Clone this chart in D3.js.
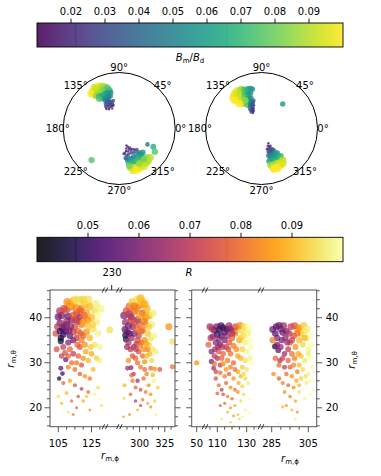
<!DOCTYPE html>
<html><head><meta charset="utf-8">
<script src="https://cdn.jsdelivr.net/npm/d3@7"></script>
<style>body{margin:0;background:#fff}svg{display:block;font-family:"DejaVu Sans",sans-serif}</style>
</head><body><svg id="c" width="381" height="476"></svg>
<script>
// ---------------- DATA ----------------
const bTicks = [0.02,0.03,0.04,0.05,0.06,0.07,0.08,0.09];
const rTicks = [0.05,0.06,0.07,0.08,0.09];
const bDomain = [0.01,0.1];
const rDomain = [0.04,0.1];
const polarLabels = [0,45,90,135,180,225,270,315];
const yTicksMajor = [20,30,40];

// polar points: [theta deg, r (fraction of max), Bm/Bd]
const polarLeftUpper = [
[126,0.82,0.1],[123,0.8,0.098],[120,0.83,0.095],[116,0.84,0.097],[112,0.82,0.09],[109,0.79,0.088],[127,0.77,0.095],[124,0.75,0.092],[119,0.77,0.09],[114,0.78,0.088],[129,0.8,0.1],[121,0.86,0.093],[117,0.72,0.085],[111,0.74,0.08],[106,0.76,0.075],[104,0.71,0.07],[125,0.71,0.085],
[122,0.68,0.07],[118,0.67,0.068],[114,0.66,0.065],[110,0.68,0.06],[107,0.66,0.058],[120,0.62,0.06],[116,0.6,0.058],[112,0.6,0.055],[108,0.61,0.052],[124,0.64,0.075],[113,0.55,0.05],[117,0.56,0.048],[109,0.56,0.045],[105,0.6,0.05],[103,0.66,0.055],
[115,0.52,0.04],[111,0.51,0.035],[107,0.5,0.032],[119,0.5,0.035],[113,0.47,0.03],[109,0.46,0.025],[105,0.47,0.028],[117,0.45,0.022],[121,0.46,0.03],[111,0.42,0.02],[107,0.42,0.018],[115,0.41,0.015],[104,0.43,0.02],[118,0.39,0.016],[109,0.38,0.015],[123,0.42,0.02],[102,0.51,0.03]
];
const polarLeftLower = [
[283,0.45,0.02],[287,0.42,0.015],[291,0.44,0.018],[295,0.41,0.02],[299,0.43,0.025],[303,0.44,0.02],[289,0.38,0.015],[295,0.36,0.018],[285,0.5,0.03],[290,0.49,0.025],[296,0.48,0.03],[301,0.5,0.028],[306,0.47,0.022],[280,0.46,0.02],[293,0.33,0.015],[310,0.49,0.03],[307,0.53,0.04],[299,0.39,0.02],
[284,0.58,0.045],[288,0.56,0.05],[292,0.58,0.055],[297,0.56,0.05],[302,0.58,0.055],[307,0.59,0.06],[311,0.57,0.05],[285,0.63,0.06],[290,0.64,0.065],[296,0.63,0.06],[301,0.65,0.068],[306,0.64,0.065],[311,0.62,0.06],[315,0.6,0.058],[293,0.68,0.07],[299,0.69,0.072],[304,0.7,0.075],[282,0.54,0.04],
[286,0.73,0.09],[290,0.75,0.095],[294,0.77,0.1],[298,0.75,0.092],[302,0.77,0.097],[306,0.75,0.09],[310,0.74,0.088],[314,0.72,0.085],[288,0.79,0.095],[293,0.81,0.1],[298,0.8,0.098],[303,0.81,0.095],[308,0.79,0.092],[312,0.78,0.09],[285,0.69,0.082],[309,0.7,0.08],[300,0.72,0.085],[317,0.76,0.09],
[332,0.69,0.065],[327,0.76,0.075],[330.6,0.58,0.045],[228.8,0.75,0.075]
];
const polarRightUpper = [
[133,0.74,0.1],[130,0.77,0.098],[127,0.79,0.097],[123,0.8,0.095],[119,0.78,0.092],[131,0.68,0.1],[128,0.7,0.097],[125,0.72,0.094],[121,0.73,0.09],[129,0.63,0.099],[126,0.62,0.095],[123,0.64,0.092],[127,0.56,0.098],[124,0.55,0.093],[134,0.7,0.1],[117,0.79,0.088],[132,0.6,0.1],
[114,0.76,0.075],[111,0.74,0.07],[108,0.75,0.065],[105,0.74,0.06],[116,0.68,0.072],[113,0.66,0.068],[110,0.67,0.062],[107,0.66,0.058],[119,0.62,0.08],[115,0.6,0.065],[112,0.58,0.06],[109,0.58,0.055],[118,0.53,0.07],[121,0.5,0.075],[114,0.52,0.055],[111,0.5,0.05],[120,0.58,0.085],[103,0.72,0.055],
[116,0.46,0.04],[112,0.45,0.035],[109,0.44,0.03],[119,0.43,0.045],[115,0.4,0.03],[112,0.39,0.025],[118,0.37,0.025],[121,0.39,0.035],[116,0.34,0.02],[119,0.32,0.018],[114,0.35,0.02],[122,0.35,0.028],[108,0.49,0.035],[106,0.52,0.04],
[49.2,0.58,0.055]
];
const polarRightLower = [
[295,0.29,0.015],[290,0.33,0.018],[293,0.36,0.02],[297,0.35,0.02],[289,0.39,0.022],[294,0.4,0.025],[298,0.41,0.028],[286,0.43,0.03],[291,0.44,0.028],[296,0.45,0.03],[300,0.44,0.035],[288,0.47,0.035],[285,0.38,0.02],
[284,0.5,0.045],[288,0.51,0.05],[292,0.5,0.048],[296,0.51,0.052],[300,0.5,0.055],[303,0.52,0.058],[286,0.56,0.055],[290,0.57,0.06],[294,0.56,0.058],[298,0.57,0.062],[302,0.58,0.065],[305,0.6,0.07],[283,0.6,0.06],[287,0.62,0.065],[292,0.62,0.068],[297,0.63,0.07],[301,0.64,0.072],
[284,0.67,0.085],[288,0.69,0.09],[292,0.68,0.088],[296,0.69,0.092],[300,0.7,0.095],[304,0.68,0.09],[286,0.73,0.095],[290,0.74,0.1],[294,0.74,0.098],[298,0.74,0.097],[302,0.73,0.095],[287,0.76,0.1],[292,0.77,0.1]
];

// scatter points: [r_m,phi, r_m,theta, R]
const leftA = [
[103.5,36.5,0.075],[106.5,35.5,0.043],[106.5,34.8,0.045],[107.5,37.6,0.048],[109.5,37.0,0.052],[108,36.2,0.05],[110,38.5,0.055],[106,38.8,0.06],[105,40.2,0.058],[107,40.5,0.06],[111,40.3,0.056],[113,39.5,0.06],[112,36,0.055],[114,35,0.058],[111,34.5,0.06],[105.5,26.5,0.045],[107.5,27.6,0.05],[106.5,28.8,0.055],[109.5,30.7,0.057],
[104,33,0.075],[108,33.5,0.07],[112,33,0.078],[110,41.8,0.075],[113,42.5,0.08],[116,41,0.072],[118,40,0.065],[115,38,0.075],[117,37,0.08],[119,38.5,0.082],[116,35.5,0.07],[120,36,0.078],[118,33.5,0.075],[121,34,0.085],[114,32,0.07],[117,31.5,0.078],[113,30,0.08],[119,29.5,0.075],[111,29,0.082],[115,28.5,0.08],[118,27.5,0.078],[121,27,0.085],[124,26.5,0.082],[108,25.5,0.078],[112,26,0.088],[115,25,0.075],[119,24.2,0.07],[123,23.5,0.08],[110,23.3,0.09],[117,22.5,0.075],[113,21.5,0.08],[120,21.5,0.088],[107,21,0.09],[116,20,0.078],[124,19.5,0.085],[111,19,0.095],[114,18.5,0.08],[105,22.5,0.095],
[114,40.5,0.078],[117,39.2,0.07],[119,42,0.082],[122,36.8,0.085],[110,39.2,0.065],[108,38,0.062],
[118,43.8,0.095],[112,43,0.09],[121,43,0.092],[124,42.5,0.09],[127,41.5,0.095],[130.5,42,0.098],[122,41,0.088],[125,40,0.09],[128,39,0.097],[123,38,0.092],[126,37.5,0.095],[129,36.5,0.098],[124,35.5,0.09],[127,34,0.096],[130,33.5,0.098],[125,32,0.088],[128,31,0.093],[130,30.5,0.097],[136,37.3,0.095],[126,28.5,0.09],[129,24.5,0.095],[127,23,0.098],[130,22,0.1],[122,22.5,0.092],[131,20.5,0.095],[116,42.2,0.085],[120,39,0.088],
[104.5,38,0.07],[106,41.5,0.068],[108.5,42,0.075],[110.5,43.5,0.085],[114.5,43.8,0.09],[116,44,0.095],[120,44,0.093],[122.5,39.5,0.085],[120.5,40.5,0.08],[118,41.5,0.078],[115.5,39.5,0.072],[112.5,38,0.065],[114,36.8,0.07],[116.5,34,0.078],[119,35,0.082],[121.5,32.5,0.088],[123,30.5,0.09],[120,31,0.085],[116,30,0.082],[111,31.5,0.078],[109,32.2,0.075],[107,31.5,0.072],[118.5,36.5,0.078],[125.5,38.5,0.093],[127.5,43,0.097],[123,44,0.095],[129,40.5,0.1],[124.5,33.5,0.092],[111.5,37.2,0.06],[106,37,0.05]
];
const leftB = [
[284.5,40.5,0.06],[291.5,40.2,0.058],[285.5,37.4,0.055],[286,36.1,0.045],[286.5,35.2,0.048],[289,38.2,0.06],[293,38,0.062],[288,36.8,0.058],[292,35.5,0.065],[295,36.5,0.06],[294,33.5,0.065],[297,34.2,0.068],[298,39.5,0.062],[288,28.8,0.065],[291.5,28.9,0.062],[294,27.5,0.07],[298,26,0.065],[296,21.5,0.068],[301,20.5,0.07],
[287,41.5,0.075],[290,42.5,0.08],[295,41.5,0.078],[300,42.8,0.082],[303,41,0.075],[300,38.5,0.078],[303,37.2,0.08],[306,38.5,0.083],[299,36,0.072],[302,34.5,0.078],[305,35,0.085],[299,32.5,0.075],[303,31.5,0.08],[308,33,0.082],[296,31,0.078],[289,30.5,0.085],[301,29,0.082],[305,28.5,0.078],[311,28.8,0.08],[315,28.6,0.085],[320,28.5,0.075],[293,26,0.082],[304,26.5,0.08],[309,25,0.085],[296,24.5,0.078],[301,24,0.075],[306,23.5,0.082],[311,23,0.085],[291,23,0.08],[303,21.8,0.08],[308,21,0.088],[290,18.5,0.082],[284,18,0.085],[298,19.5,0.09],[311,20.2,0.085],
[293,43.5,0.092],[298,44,0.095],[303,43.5,0.093],[307,42,0.09],[310,40.5,0.095],[312,38.5,0.097],[308,36.5,0.092],[311,35.5,0.095],[314,36,0.098],[309,34,0.093],[313,33,0.096],[307,31.5,0.09],[312,30.5,0.094],[316,32.5,0.097],[329,38,0.085],[332.5,34.7,0.095],[332.5,29.1,0.08],[284.5,22.1,0.095],[285,25,0.09],[314,26,0.098],[318,24.5,0.093],[316,18.5,0.097],[315,21.5,0.093],[306,40,0.085],[297,42,0.085],[300,40.5,0.088],
[286,39,0.065],[289.5,40.8,0.07],[292,39.5,0.072],[295,39,0.075],[297,37.5,0.078],[294.5,42.5,0.082],[301,44.3,0.09],[305,43,0.088],[308.5,40.5,0.09],[304.5,39.2,0.082],[301.5,37,0.08],[298,35,0.075],[300.5,33.8,0.082],[304,33,0.085],[306.5,34.2,0.088],[296.5,33,0.072],[291,33,0.07],[289,34.5,0.068],[293,31.5,0.075],[310,32,0.09],[305,30.2,0.085],[298,30,0.08],[292,27.2,0.078],[307,27.5,0.082],[313,27.3,0.09],[290,36.5,0.055],[287.5,33.5,0.065],[309,38,0.093],[313,41,0.097]
];
const rightC = [[50,30,0.085]];
const rightD = [
[105,38,0.065],[108,37.2,0.055],[111.5,37.4,0.045],[114,37.8,0.05],[116.5,37.4,0.048],[119,37.5,0.058],[110,36.3,0.05],[113,36,0.055],[107,35.8,0.06],[109,34.5,0.062],[112,34,0.058],[115,35,0.06],[106,32.5,0.062],[108.5,33,0.065],[106,30.3,0.06],[110,31,0.068],[107.5,28.8,0.065],[112,29.5,0.07],[117,36,0.065],[121,37,0.062],
[104,34,0.078],[108,29.8,0.08],[111,32.5,0.075],[114,32,0.078],[116,33.5,0.072],[118,34.5,0.075],[120,35.5,0.078],[122,36.5,0.082],[119,32,0.08],[117,30.5,0.082],[114,29.8,0.085],[121,30,0.078],[123,33,0.085],[125,35,0.088],[112,27.8,0.08],[115,27,0.082],[118,27.5,0.078],[121,26.5,0.085],[124,28,0.088],[109,26.5,0.075],[111,25,0.08],[113,24,0.07],[116,25.5,0.078],[119,24.5,0.085],[122,24,0.08],[110,23.2,0.078],[114,23,0.075],[117,22.5,0.082],[120,22,0.078],[124,23.5,0.085],[115,21,0.08],[119,20,0.085],[112,20.5,0.078],[122,20.5,0.088],[117,19,0.09],[121,18.2,0.085],[124,18.5,0.09],[119,16.8,0.092],[121,15.8,0.088],[125,17.5,0.092],
[124,37.5,0.09],[127,37,0.095],[130,37.2,0.098],[126,35.5,0.092],[129,34.5,0.097],[132,35,0.1],[127,33,0.093],[130,32.5,0.098],[133,33.5,0.1],[126,31,0.09],[129,30.5,0.095],[132,31,0.098],[127,29,0.092],[130,28.5,0.096],[126,27,0.09],[129,26.5,0.094],[127,24.8,0.093],[131,25.5,0.097],[128,23,0.095],[132,22,0.1],[126,21.5,0.094],[129,19.5,0.097],[127,18,0.098],[132,18.8,0.1],[113,17.5,0.095],[116,15.8,0.1],
[106.5,37.5,0.07],[109.5,38,0.06],[112.5,38.2,0.052],[118,38.2,0.065],[122.5,38,0.075],[125.5,38.3,0.085],[128.5,38,0.095],[131.5,38,0.1],[120,36.5,0.07],[115,36.8,0.058],[111,35.2,0.062],[113.5,33.5,0.07],[117.5,33,0.075],[121,33.8,0.082],[124,31.5,0.088],[122,28.5,0.08],[119,29,0.082],[116,28.5,0.085],[113,31,0.078],[109,28,0.072],[105.5,35.5,0.068],[128,36,0.095],[131,36.5,0.098],[133.5,30,0.1],[128,27.5,0.094],[124.5,25.5,0.088],[110.5,33.5,0.065],[108,31.5,0.07]
];
const rightE = [
[285.5,37.4,0.058],[287.5,38,0.055],[290,37.5,0.06],[291.5,38.2,0.065],[293,37,0.06],[286.8,33.6,0.045],[288.6,32.8,0.055],[288,35.5,0.062],[290.5,35,0.06],[292.5,35.5,0.062],[294.5,36.5,0.068],[290,33.5,0.065],[292,32,0.065],[294,33,0.07],[289.5,30.5,0.068],[292,29,0.07],
[285.5,35,0.082],[287,31,0.078],[289,29.5,0.08],[295,34.5,0.078],[297,36,0.075],[296,32,0.08],[298,33.5,0.085],[294,30.5,0.078],[297,29.5,0.083],[293,27.5,0.08],[296,27,0.085],[299,28,0.082],[289,26.5,0.078],[291,25.5,0.082],[294,25,0.08],[297,24.5,0.085],[292,23.5,0.085],[295,22.5,0.082],[298,21.5,0.088],[293,20.5,0.085],[296,19.5,0.09],[299,19,0.085],[291,20.2,0.09],[286,27.5,0.085],
[299,37.5,0.088],[301,36.5,0.092],[303,37,0.095],[300,35,0.09],[302,34,0.094],[304,35.5,0.097],[305,33,0.098],[301,31.5,0.092],[303,30.5,0.096],[306,31,0.1],[300,29.5,0.09],[302,28.5,0.094],[305,27.5,0.098],[307,29,0.1],[301,26.5,0.093],[304,25.5,0.097],[300,23.5,0.095],[303,22,0.098],[306,23,0.1],[288.6,16.5,0.097],[302.3,16.1,0.1],[298,17.5,0.096],
[289,38.3,0.058],[295.5,38,0.07],[297.5,38.2,0.075],[300,37.8,0.085],[302.5,38.3,0.092],[304.5,37.5,0.097],[306,36,0.1],[306.5,34,0.1],[303,35.5,0.09],[299,36.5,0.08],[296,35,0.072],[293.5,34.5,0.066],[291,36.7,0.058],[287,36.5,0.055],[288,34,0.06],[299.5,32,0.088],[297.5,31,0.082],[295,29,0.078],[291,31,0.072],[298.5,26,0.088],[303.5,27,0.095],[306,26,0.1],[300,25,0.09],[305,32,0.097]
];

// ---------------- DRAW ----------------
const svg = d3.select("#c");
const FS = 10;
const defs = svg.append("defs");

function colorbar(id, y0, h, domain, interp, ticks, seams) {
  const x = d3.scaleLinear().domain(domain).range([37, 343]);
  const grad = defs.append("linearGradient").attr("id", id).attr("x1", "0").attr("x2", "1").attr("y1", "0").attr("y2", "0");
  d3.range(0, 1.0001, 0.02).forEach(t => grad.append("stop").attr("offset", t).attr("stop-color", interp(t)));
  const g = svg.append("g");
  g.append("rect").attr("x", 37).attr("y", y0).attr("width", 306).attr("height", h)
    .attr("fill", `url(#${id})`).attr("fill-opacity", 0.88);
  seams.forEach(v => g.append("line").attr("x1", x(v)).attr("x2", x(v)).attr("y1", y0).attr("y2", y0 + h)
      .attr("stroke", interp((x(v) - 37) / 306)).attr("stroke-opacity", 0.7).attr("stroke-width", 1));
  g.append("rect").attr("x", 37).attr("y", y0).attr("width", 306).attr("height", h)
    .attr("fill", "none").attr("stroke", "#000").attr("stroke-width", 0.9);
  ticks.forEach(t => {
    g.append("line").attr("x1", x(t)).attr("x2", x(t)).attr("y1", y0).attr("y2", y0 - 4.5).attr("stroke", "#000").attr("stroke-width", 0.9);
    g.append("text").attr("x", x(t)).attr("y", y0 - 8).attr("text-anchor", "middle").attr("font-size", FS).text(t.toFixed(2));
  });
  return x;
}
colorbar("gb", 23, 24, bDomain, d3.interpolateViridis, bTicks, [0.0214, 0.0658]);
colorbar("gr", 237.3, 24.4, rDomain, d3.interpolateInferno, rTicks, [0.0476, 0.0772]);

// colorbar labels
const lb = svg.append("text").attr("x", 190).attr("y", 60.5).attr("text-anchor", "middle").attr("font-size", FS);
lb.append("tspan").attr("font-style", "italic").text("B");
lb.append("tspan").attr("font-size", 7).attr("dy", 2).text("m");
lb.append("tspan").attr("dy", -2).text("/");
lb.append("tspan").attr("font-style", "italic").text("B");
lb.append("tspan").attr("font-size", 7).attr("dy", 2).text("d");
svg.append("text").attr("x", 189).attr("y", 275.5).attr("text-anchor", "middle").attr("font-size", FS).attr("font-style", "italic").text("R");
svg.append("text").attr("x", 112).attr("y", 275.5).attr("text-anchor", "middle").attr("font-size", FS).text("230");

// polar plots
const bColor = d3.scaleSequential(d3.interpolateViridis).domain(bDomain);
const bSize = d3.scaleSqrt().domain(bDomain).range([0.9, 3.7]);
const rad = d3.scaleLinear().domain([0, 1]).range([0, 56]);
const ang = d3.scaleLinear().domain([0, 360]).range([0, 2 * Math.PI]);
function polar(cx, cy, sets) {
  const g = svg.append("g");
  g.append("circle").attr("cx", cx).attr("cy", cy).attr("r", rad(1)).attr("fill", "none").attr("stroke", "#000").attr("stroke-width", 1);
  polarLabels.forEach(a => {
    g.append("text").attr("x", cx + 61.5 * Math.cos(ang(a))).attr("y", cy - 61.5 * Math.sin(ang(a)))
      .attr("text-anchor", "middle").attr("dominant-baseline", "central").attr("font-size", FS).text(a + "°");
  });
  sets.forEach(pts => {
    g.append("g").selectAll("circle").data(pts).join("circle")
      .attr("cx", d => cx + rad(d[1]) * Math.cos(ang(d[0])))
      .attr("cy", d => cy - rad(d[1]) * Math.sin(ang(d[0])))
      .attr("r", d => bSize(d[2]))
      .attr("fill", d => bColor(d[2])).attr("opacity", 0.8);
  });
}
polar(119.2, 128.5, [polarLeftUpper, polarLeftLower]);
polar(261.5, 128.5, [polarRightUpper, polarRightLower]);

// bottom scatter panels
const y = d3.scaleLinear().domain([15.8, 46.2]).range([426.7, 289.8]);
const rColor = d3.scaleSequential(d3.interpolateInferno).domain(rDomain);
const ySize = d3.scaleLinear().domain([16, 44]).range([1.1, 4.1]);
const TOP = 290, BOT = 426.7, SP = "#555";

function panel(x0, x1, segs, breaks, leftLabels) {
  const g = svg.append("g");
  segs.forEach(s => {
    g.append("g").selectAll("circle").data(s.data).join("circle")
      .attr("cx", d => s.scale(d[0])).attr("cy", d => y(d[1]))
      .attr("r", d => ySize(d[1])).attr("fill", d => rColor(d[2])).attr("opacity", 0.72);
  });
  g.append("rect").attr("x", x0).attr("y", TOP).attr("width", x1 - x0).attr("height", BOT - TOP)
    .attr("fill", "none").attr("stroke", SP).attr("stroke-width", 1);
  for (let v = 16; v <= 46; v += 2) {
    const major = v % 10 === 0, len = major ? 5.5 : 3;
    [[x0, -1], [x1, 1]].forEach(([xx, dir]) => {
      g.append("line").attr("x1", xx).attr("x2", xx + dir * len).attr("y1", y(v)).attr("y2", y(v)).attr("stroke", SP).attr("stroke-width", 1);
    });
  }
  yTicksMajor.forEach(v => {
    if (leftLabels) g.append("text").attr("x", x0 - 8).attr("y", y(v)).attr("text-anchor", "end").attr("dominant-baseline", "central").attr("font-size", FS).text(v);
    else g.append("text").attr("x", x1 + 9).attr("y", y(v)).attr("text-anchor", "start").attr("dominant-baseline", "central").attr("font-size", FS).text(v);
  });
  segs.forEach(s => {
    const [lo, hi] = s.px;
    const dmin = s.scale.invert(lo), dmax = s.scale.invert(hi);
    for (let v = Math.ceil(dmin / s.minor) * s.minor; v <= dmax + 1e-9; v += s.minor) {
      const px = s.scale(v);
      const major = s.majors.some(m => Math.abs(m - v) < 1e-6);
      g.append("line").attr("x1", px).attr("x2", px).attr("y1", BOT).attr("y2", BOT + (major ? 5.5 : 3)).attr("stroke", SP).attr("stroke-width", 1);
    }
    s.majors.forEach(m => g.append("text").attr("x", s.scale(m)).attr("y", BOT + 20).attr("text-anchor", "middle").attr("font-size", FS).text(m));
  });
  breaks.forEach(bx => {
    [TOP, BOT].forEach(yy => {
      [-1.6, 1.6].forEach(off => {
        g.append("line").attr("x1", bx + off - 1.2).attr("x2", bx + off + 1.2).attr("y1", yy + 2.5).attr("y2", yy - 2.5)
          .attr("stroke", "#222").attr("stroke-width", 0.9);
      });
    });
  });
  return g;
}

const sA = d3.scaleLinear().domain([105, 125]).range([58.3, 91.5]);
const sB = d3.scaleLinear().domain([300, 325]).range([139.6, 164.8]);
const sC = d3.scaleLinear().domain([45, 55]).range([189.6, 203.8]);
const sD = d3.scaleLinear().domain([110, 130]).range([217.3, 246.7]);
const sE = d3.scaleLinear().domain([285, 305]).range([271.7, 308.3]);

const gl = panel(50, 175, [
  {data: leftA, scale: sA, px: [50, 103], minor: 5, majors: [105, 125]},
  {data: leftB, scale: sB, px: [121, 175], minor: 6.25, majors: [300, 325]}
], [105, 119.3], true);
gl.append("line").attr("x1", 111.7).attr("x2", 111.7).attr("y1", TOP).attr("y2", TOP - 5).attr("stroke", "#222").attr("stroke-width", 1);

panel(191.7, 316.7, [
  {data: rightC, scale: sC, px: [191.7, 203], minor: 5, majors: [50]},
  {data: rightD, scale: sD, px: [207, 259], minor: 5, majors: [110, 130]},
  {data: rightE, scale: sE, px: [263, 316.7], minor: 5, majors: [285, 305]}
], [205, 261], false);

function rLabel(x, yy, sub, rot) {
  const t = svg.append("text").attr("font-size", FS).attr("text-anchor", "middle")
    .attr("transform", `translate(${x},${yy})` + (rot ? " rotate(-90)" : ""));
  t.append("tspan").attr("font-style", "italic").text("r");
  t.append("tspan").attr("font-size", 7).attr("dy", 2).text("m," + sub);
}
rLabel(110, 459, "ϕ", false);
rLabel(290, 462, "ϕ", false);
rLabel(14, 359, "θ", true);
rLabel(355, 360, "θ", true);
</script></body></html>
